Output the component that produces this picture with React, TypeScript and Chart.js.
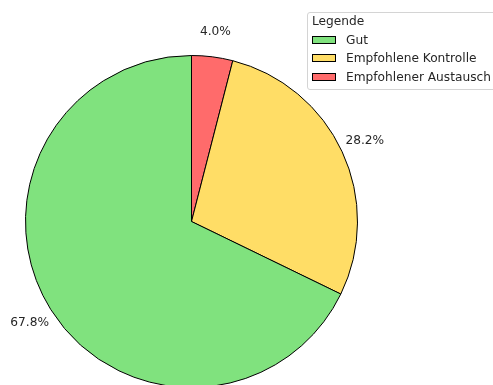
import React, { useEffect, useRef } from "react";
import { Chart, registerables } from "chart.js";

Chart.register(...registerables);

// Slices in drawing order (clockwise from the top)
const categories = ["Empfohlener Austausch", "Empfohlene Kontrolle", "Gut"];
const shares = [4.0, 28.2, 67.8];
const sliceColors = ["#ff6b6b", "#ffdd66", "#80e27e"];

// Legend order as shown in the reference
const legendTitle = "Legende";
const legendLabels = ["Gut", "Empfohlene Kontrolle", "Empfohlener Austausch"];

const W = 493;
const H = 385;
const CANVAS_H = 420;
const FONT = "'DejaVu Sans', sans-serif";
const TEXT_COLOR = "#262626";
const FONT_SIZE = 12.2;

const pctLabels = {
  id: "pctLabels",
  afterDatasetsDraw(chart: any) {
    const ctx = chart.ctx;
    const meta = chart.getDatasetMeta(0);
    ctx.save();
    ctx.font = `${FONT_SIZE}px ${FONT}`;
    ctx.fillStyle = TEXT_COLOR;
    ctx.textAlign = "center";
    ctx.textBaseline = "middle";
    meta.data.forEach((arc: any, i: number) => {
      const { x, y, startAngle, endAngle, outerRadius } = arc.getProps([
        "x",
        "y",
        "startAngle",
        "endAngle",
        "outerRadius",
      ]);
      const mid = (startAngle + endAngle) / 2;
      const r = outerRadius * 1.15;
      ctx.fillText(
        shares[i].toFixed(1) + "%",
        x + r * Math.cos(mid),
        y + r * Math.sin(mid)
      );
    });
    ctx.restore();
  },
};

export default function App() {
  const canvasRef = useRef<HTMLCanvasElement | null>(null);

  useEffect(() => {
    if (!canvasRef.current) return;
    const chart = new Chart(canvasRef.current, {
      type: "pie",
      data: {
        labels: categories,
        datasets: [
          {
            data: shares,
            backgroundColor: sliceColors,
            borderColor: "#000000",
            borderWidth: 1,
            hoverOffset: 0,
          },
        ],
      },
      options: {
        responsive: false,
        animation: false,
        rotation: 0,
        layout: {
          padding: { left: 25, top: 55, right: 135, bottom: CANVAS_H - 388 },
        },
        plugins: {
          legend: { display: false },
          tooltip: { enabled: false },
        },
      },
      plugins: [pctLabels],
    });
    return () => chart.destroy();
  }, []);

  const colorFor = (label: string) => sliceColors[categories.indexOf(label)];
  const rowY = [39.5, 58.2, 77];

  return (
    <div
      style={{
        position: "absolute",
        left: 0,
        top: 0,
        width: W,
        height: H,
        overflow: "hidden",
        background: "#fff",
        fontFamily: FONT,
      }}
    >
      <canvas
        ref={canvasRef}
        width={W}
        height={CANVAS_H}
        style={{ position: "absolute", left: 0, top: 0, width: W, height: CANVAS_H }}
      />
      <div
        style={{
          position: "absolute",
          left: 307,
          top: 12,
          width: 200,
          height: 78,
          border: "1px solid #d4d4d4",
          borderRadius: 3,
          background: "rgba(255,255,255,0.8)",
          boxSizing: "border-box",
        }}
      />
      <div
        style={{
          position: "absolute",
          left: 312,
          top: 21 - 7,
          fontSize: FONT_SIZE,
          lineHeight: "14px",
          color: TEXT_COLOR,
          whiteSpace: "nowrap",
        }}
      >
        {legendTitle}
      </div>
      {legendLabels.map((label, i) => (
        <React.Fragment key={label}>
          <div
            style={{
              position: "absolute",
              left: 312,
              top: rowY[i] - 4,
              width: 24,
              height: 8,
              background: colorFor(label),
              border: "1px solid #000",
              boxSizing: "border-box",
            }}
          />
          <div
            style={{
              position: "absolute",
              left: 346,
              top: rowY[i] - 7,
              fontSize: FONT_SIZE,
              lineHeight: "14px",
              color: TEXT_COLOR,
              whiteSpace: "nowrap",
            }}
          >
            {label}
          </div>
        </React.Fragment>
      ))}
    </div>
  );
}
